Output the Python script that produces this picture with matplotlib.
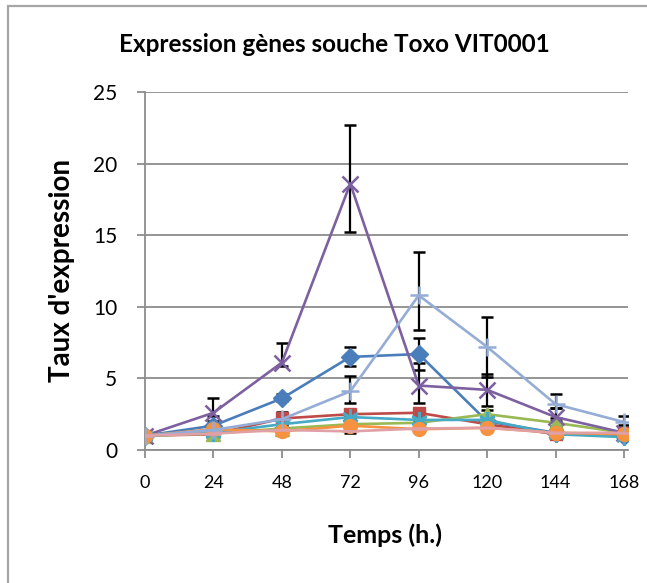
import matplotlib
matplotlib.use("Agg")
import matplotlib.pyplot as plt
from matplotlib.patches import Rectangle

plt.rcParams['font.family'] = ['Lato', 'DejaVu Sans']

# time points (hours)
temps = [0, 24, 48, 72, 96, 120, 144, 168]

# expression per gene (8 series), with lower / upper error values
s1 = [1.0, 1.7, 3.6, 6.5, 6.7, 2.0, 1.2, 1.0]
s1_lo = [0.05, 0.2, 0.2, 0.65, 1.1, 0.3, 0.2, 0.1]
s1_hi = [0.05, 0.3, 0.3, 0.7, 1.1, 0.3, 0.2, 0.1]
s2 = [1.0, 1.1, 2.2, 2.5, 2.6, 1.8, 1.1, 1.2]
s2_lo = [0.1, 0.1, 0.2, 0.2, 0.2, 0.2, 0.1, 0.1]
s2_hi = [0.1, 0.2, 0.45, 0.3, 0.3, 0.2, 0.2, 0.1]
s3 = [1.0, 1.15, 1.5, 1.8, 1.9, 2.5, 1.9, 1.2]
s3_lo = [0.05, 0.1, 0.1, 0.1, 0.1, 0.2, 0.2, 0.1]
s3_hi = [0.05, 0.1, 0.2, 0.2, 0.2, 0.3, 0.3, 0.1]
s4 = [1.0, 2.6, 6.1, 18.6, 4.5, 4.2, 2.3, 1.2]
s4_lo = [0.05, 0.2, 0.2, 3.4, 1.2, 1.1, 0.3, 0.1]
s4_hi = [0.1, 1.0, 1.4, 4.1, 1.6, 1.1, 0.6, 0.2]
s5 = [1.0, 1.2, 1.8, 2.3, 2.1, 2.1, 1.1, 0.9]
s5_lo = [0.05, 0.1, 0.1, 0.2, 0.2, 0.2, 0.1, 0.1]
s5_hi = [0.05, 0.1, 0.2, 0.2, 0.2, 0.2, 0.1, 0.1]
s6 = [1.0, 1.45, 1.3, 1.7, 1.45, 1.55, 1.2, 1.1]
s6_lo = [0.05, 0.1, 0.1, 0.1, 0.1, 0.1, 0.1, 0.1]
s6_hi = [0.05, 0.1, 0.1, 0.2, 0.1, 0.1, 0.1, 0.1]
s7 = [1.0, 1.4, 2.15, 4.1, 10.8, 7.2, 3.2, 1.95]
s7_lo = [0.1, 0.1, 0.2, 0.8, 2.4, 2.1, 0.3, 0.2]
s7_hi = [0.1, 0.2, 0.3, 1.1, 3.0, 2.1, 0.7, 0.45]
s8 = [1.0, 1.15, 1.4, 1.3, 1.5, 1.55, 1.2, 1.2]
s8_lo = [0.05, 0.1, 0.1, 0.1, 0.1, 0.1, 0.1, 0.1]
s8_hi = [0.05, 0.1, 0.1, 0.1, 0.1, 0.1, 0.1, 0.1]

series = [
    (s1, s1_lo, s1_hi, '#4A7EBB', 'D', 9.5),
    (s2, s2_lo, s2_hi, '#BE4B48', 's', 9),
    (s3, s3_lo, s3_hi, '#98B954', '^', 10),
    (s4, s4_lo, s4_hi, '#7D60A0', 'x', 11),
    (s5, s5_lo, s5_hi, '#46AAC5', (6, 2, 0), 12),
    (s6, s6_lo, s6_hi, '#F69240', 'o', 10),
    (s7, s7_lo, s7_hi, '#95ADD6', '+', 13),
    (s8, s8_lo, s8_hi, '#E0A1A6', '_', 12),
]

W, H = 647, 583
fig = plt.figure(figsize=(W / 100, H / 100), dpi=100)

# outer chart border (cropped on the right / bottom)
fig.patches.append(Rectangle((8 / W, -0.05), 1.2, 1 - 6 / H + 0.05,
                             transform=fig.transFigure, fill=False,
                             edgecolor='#A6A6A6', linewidth=1.6))

ax = fig.add_axes([145 / W, 1 - 450 / H, (628 - 145) / W, (450 - 92) / H])

for vals, lo, hi, col, mk, ms in series:
    ax.errorbar(temps, vals, yerr=[lo, hi], fmt='none', ecolor='black',
                elinewidth=1.6, capsize=4, capthick=1.8, zorder=2.5)

for i, (vals, lo, hi, col, mk, ms) in enumerate(series):
    mew = 1.8 if mk in ('x', '+', '_', (6, 2, 0)) else 1
    ax.plot(temps, vals, color=col, linewidth=1.9, marker=mk, markersize=ms,
            markerfacecolor=col, markeredgecolor=col, markeredgewidth=mew,
            zorder=3 + i * 0.1)

ax.set_xlim(0, 169.4)
ax.set_ylim(0, 25)
ax.set_xticks(temps)
ax.set_yticks([0, 5, 10, 15, 20, 25])
ax.yaxis.grid(True, color='#8C8C8C', linewidth=1.3)
ax.set_axisbelow(True)

for sp in ('top', 'right'):
    ax.spines[sp].set_visible(False)
for sp in ('left', 'bottom'):
    ax.spines[sp].set_color('#8C8C8C')
    ax.spines[sp].set_linewidth(1.3)

ax.tick_params(axis='y', direction='out', length=6, width=1.3, color='#8C8C8C',
               labelsize=15, pad=14)
ax.tick_params(axis='x', direction='out', length=6, width=1.3, color='#8C8C8C',
               labelsize=13, pad=12)

fig.text(334 / W, 1 - 45 / H, "Expression gènes souche Toxo VIT0001",
         ha='center', va='center', fontsize=17.5, fontweight='bold')
fig.text(62 / W, 1 - 270 / H, "Taux d'expression", rotation=90,
         ha='center', va='center', fontsize=20, fontweight='bold')
fig.text(385 / W, 1 - 535 / H, "Temps (h.)",
         ha='center', va='center', fontsize=18, fontweight='bold')

fig.savefig('out.png', dpi=100)
